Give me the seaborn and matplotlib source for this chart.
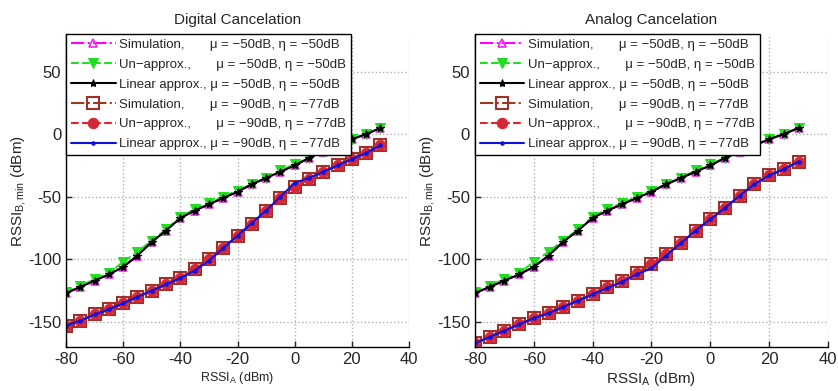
import matplotlib
matplotlib.use("Agg")
import matplotlib.pyplot as plt
import numpy as np
import pandas as pd
import seaborn as sns

# ---------------- data ----------------
rssi_a = [-80, -75, -70, -65, -60, -55, -50, -45, -40, -35, -30, -25,
          -20, -15, -10, -5, 0, 5, 10, 15, 20, 25, 30]

# mu = -50 dB, eta = -50 dB (same in both panels)
sim_50 = [-127, -122, -117, -112, -106, -97, -86, -77, -67, -61, -56, -51,
          -46, -40, -35, -30, -25, -19, -14, -9, -4, 0, 5]
unapprox_50 = [-126, -121, -116, -111, -102, -94, -85, -76, -66, -60, -55, -50,
               -45, -40, -35, -29, -24, -19, -14, -9, -4, 0, 5]
linear_50 = [-127, -122, -117, -112, -106, -97, -86, -77, -67, -61, -56, -51,
             -46, -40, -35, -30, -25, -19, -14, -9, -4, 0, 5]

# mu = -90 dB, eta = -77 dB, digital cancelation
dig_sim_90 = [-153, -149, -144, -140, -135, -130, -125, -120, -115, -108, -100, -91,
              -81, -72, -61, -51, -42, -36, -30, -25, -20, -15, -9]
dig_unapprox_90 = [-153, -149, -144, -140, -135, -130, -125, -120, -115, -108, -100, -91,
                   -81, -72, -61, -51, -42, -36, -30, -25, -20, -15, -9]
dig_linear_90 = [-153, -149, -144, -140, -135, -130, -125, -120, -115, -109, -101, -91,
                 -81, -71, -61, -50, -39, -35, -30, -25, -20, -15, -9]

# mu = -90 dB, eta = -77 dB, analog cancelation
ana_sim_90 = [-167, -162, -157, -152, -147, -143, -138, -133, -128, -122, -117, -111,
              -104, -96, -87, -77, -68, -59, -49, -40, -33, -28, -22]
ana_unapprox_90 = [-167, -162, -157, -152, -147, -143, -138, -133, -128, -122, -117, -111,
                   -104, -96, -87, -77, -68, -59, -49, -40, -33, -28, -22]
ana_linear_90 = [-167, -162, -157, -152, -147, -143, -138, -133, -128, -123, -118, -112,
                 -107, -97, -87, -77, -68, -59, -49, -40, -33, -28, -22]

titles = ["Digital Cancelation", "Analog Cancelation"]
labels = [
    "Simulation,       \u03bc = \u221250dB, \u03b7 = \u221250dB",
    "Un\u2212approx.,       \u03bc = \u221250dB, \u03b7 = \u221250dB",
    "Linear approx., \u03bc = \u221250dB, \u03b7 = \u221250dB",
    "Simulation,       \u03bc = \u221290dB, \u03b7 = \u221277dB",
    "Un\u2212approx.,       \u03bc = \u221290dB, \u03b7 = \u221277dB",
    "Linear approx., \u03bc = \u221290dB, \u03b7 = \u221277dB",
]
x_ticks = [-80, -60, -40, -20, 0, 20, 40]
y_ticks = [-150, -100, -50, 0, 50]

# ---------------- style ----------------
sns.set_style("ticks")
plt.rcParams["font.family"] = ["Liberation Sans", "DejaVu Sans"]
plt.rcParams["axes.unicode_minus"] = False
plt.rcParams["mathtext.fontset"] = "custom"
plt.rcParams["mathtext.rm"] = "Liberation Sans"
plt.rcParams["mathtext.it"] = "Liberation Sans"

fig = plt.figure(figsize=(8.38, 3.91), dpi=100)
axes = [fig.add_axes([0.0788, 0.1125, 0.4093, 0.8005]),
        fig.add_axes([0.5668, 0.1125, 0.4212, 0.8005])]

panels = [
    (sim_50, unapprox_50, linear_50, dig_sim_90, dig_unapprox_90, dig_linear_90),
    (sim_50, unapprox_50, linear_50, ana_sim_90, ana_unapprox_90, ana_linear_90),
]

styles = [
    dict(color="#ff00ff", linestyle="-.", marker="^", markersize=6,
         markerfacecolor="none", markeredgecolor="#ee22ee", markeredgewidth=1.2),
    dict(color="#22dd22", linestyle="--", marker="v", markersize=7,
         markerfacecolor="#22dd22", markeredgecolor="#22dd22"),
    dict(color="black", linestyle="-", marker="*", markersize=6,
         markerfacecolor="black", markeredgecolor="black"),
    dict(color="#9b3a1e", linestyle="-.", marker="s", markersize=8,
         markerfacecolor="none", markeredgecolor="#a0302a", markeredgewidth=1.5),
    dict(color="#e8202a", linestyle="--", marker="o", markersize=7.5,
         markerfacecolor="#d42838", markeredgecolor="#d42838"),
    dict(color="#1010e0", linestyle="-", marker=".", markersize=5,
         markerfacecolor="#1010e0", markeredgecolor="#1010e0"),
]

xlabel_sizes = [9, 11]

for ax, series, title, xls in zip(axes, panels, titles, xlabel_sizes):
    for vals, lab, st in zip(series, labels, styles):
        df = pd.DataFrame({"x": rssi_a, "y": vals})
        sns.lineplot(data=df, x="x", y="y", ax=ax, label=lab, linewidth=1.5,
                     errorbar=None, **st)
    ax.set_xlim(-80, 40)
    ax.set_ylim(-170, 80)
    ax.set_xticks(x_ticks)
    ax.set_yticks(y_ticks)
    ax.tick_params(direction="in", length=4, labelsize=12, width=1)
    ax.grid(True, linestyle=":", color="#b0b0b0", linewidth=1)
    for s in ["top", "right"]:
        ax.spines[s].set_visible(False)
    for s in ["left", "bottom"]:
        ax.spines[s].set_color("black")
        ax.spines[s].set_linewidth(1)
    ax.set_title(title, fontsize=11, pad=7)
    ax.set_xlabel("RSSI$_{A}$ (dBm)", fontsize=xls, labelpad=2)
    ax.set_ylabel("RSSI$_{B,min}$ (dBm)", fontsize=11, labelpad=0)
    leg = ax.legend(loc="upper left", bbox_to_anchor=(0, 1), borderaxespad=0,
                    fontsize=9.5, handlelength=3.4, labelspacing=0.58,
                    borderpad=0.35, handletextpad=0.3, fancybox=False,
                    framealpha=1, edgecolor="black")
    leg.get_frame().set_linewidth(1)

fig.savefig("out.png", dpi=100)
